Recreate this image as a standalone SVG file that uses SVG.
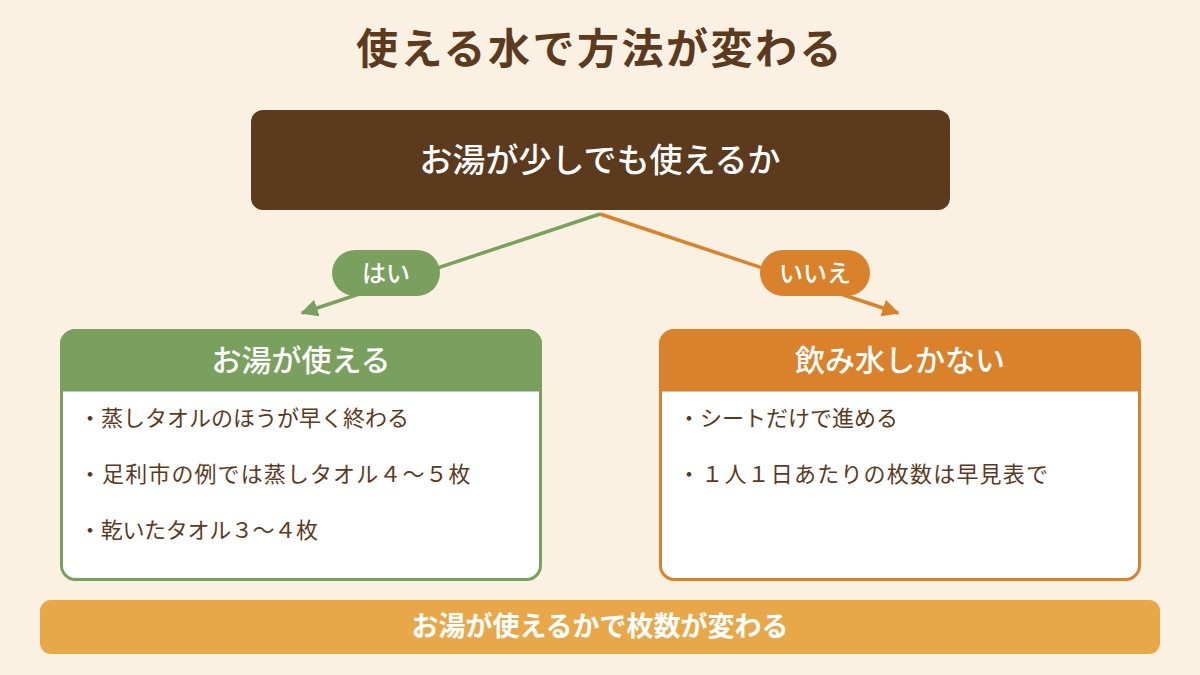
<svg xmlns="http://www.w3.org/2000/svg" width="1200" height="675" viewBox="0 0 1200 675">
<defs>
<style>
text{font-family:"Noto Sans CJK JP","Noto Sans",sans-serif;}
.title{font-size:42px;font-weight:700;fill:#5c3a1e;letter-spacing:2.5px;}
.q{font-size:33px;fill:#ffffff;font-weight:500;}
.hd{font-size:30px;fill:#ffffff;font-weight:500;}
.item{font-size:22px;fill:#5c3a1e;}
.pill{font-size:24px;fill:#ffffff;font-weight:500;}
.foot{font-size:27px;fill:#ffffff;font-weight:700;}
</style>
<marker id="ag" viewBox="0 0 10 10" refX="9" refY="5" markerWidth="5" markerHeight="5" orient="auto" markerUnits="strokeWidth"><path d="M0,0 L10,5 L0,10 z" fill="#7aa05e"/></marker>
<marker id="ao" viewBox="0 0 10 10" refX="9" refY="5" markerWidth="5" markerHeight="5" orient="auto" markerUnits="strokeWidth"><path d="M0,0 L10,5 L0,10 z" fill="#d9822b"/></marker>
</defs>
<rect width="1200" height="675" fill="#faf1e3"/>
<text class="title" x="600" y="64" text-anchor="middle">使える水で方法が変わる</text>

<g id="connectors">
<line x1="600" y1="214" x2="302" y2="313" stroke="#7aa05e" stroke-width="3.5" marker-end="url(#ag)"/>
<line x1="600" y1="214" x2="898" y2="313" stroke="#d9822b" stroke-width="3.5" marker-end="url(#ao)"/>
<g id="label-yes">
<rect x="332" y="250" width="108" height="46" rx="23" fill="#7aa05e"/>
<text class="pill" x="386" y="282" text-anchor="middle">はい</text>
</g>
<g id="label-no">
<rect x="760" y="250" width="110" height="46" rx="23" fill="#d9822b"/>
<text class="pill" x="815" y="282" text-anchor="middle">いいえ</text>
</g>
</g>

<g id="question">
<rect x="251" y="110" width="699" height="100" rx="12" fill="#5c3a1e"/>
<text class="q" x="600" y="172" text-anchor="middle">お湯が少しでも使えるか</text>
</g>

<g id="yes-box">
<rect x="61.5" y="330.5" width="479" height="249" rx="14" fill="#ffffff" stroke="#7aa05e" stroke-width="3"/>
<path d="M61.5,390 V344.5 A14,14 0 0 1 75.5,330.5 H526.5 A14,14 0 0 1 540.5,344.5 V390 Z" fill="#7aa05e" stroke="#7aa05e" stroke-width="3"/>
<text class="hd" x="301" y="371" text-anchor="middle">お湯が使える</text>
<text class="item" x="79" y="426">・蒸しタオルのほうが早く終わる</text>
<text class="item" x="79" y="482" letter-spacing="1.1">・足利市の例では蒸しタオル４〜５枚</text>
<text class="item" x="79" y="538" letter-spacing="-0.3">・乾いたタオル３〜４枚</text>
</g>

<g id="no-box">
<rect x="660.5" y="330.5" width="479" height="249" rx="14" fill="#ffffff" stroke="#d9822b" stroke-width="3"/>
<path d="M660.5,390 V344.5 A14,14 0 0 1 674.5,330.5 H1125.5 A14,14 0 0 1 1139.5,344.5 V390 Z" fill="#d9822b" stroke="#d9822b" stroke-width="3"/>
<text class="hd" x="900" y="371" text-anchor="middle">飲み水しかない</text>
<text class="item" x="678" y="426">・シートだけで進める</text>
<text class="item" x="678" y="482" letter-spacing="1.2">・１人１日あたりの枚数は早見表で</text>
</g>

<g id="footer">
<rect x="40" y="600" width="1120" height="54" rx="11" fill="#e8a84a"/>
<text class="foot" x="600" y="636" text-anchor="middle">お湯が使えるかで枚数が変わる</text>
</g>
</svg>
